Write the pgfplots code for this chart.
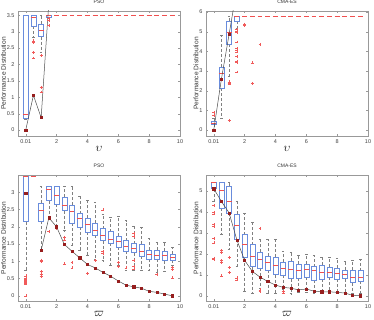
\documentclass[border=0pt]{standalone}
\usepackage{fontspec}
\setmainfont{Liberation Sans}
\usepackage{pgfplots}
\pgfplotsset{compat=1.18}
\usepgfplotslibrary{statistics}
\definecolor{boxblue}{RGB}{105,140,220}
\definecolor{medred}{RGB}{240,80,80}
\definecolor{outred}{RGB}{240,90,90}
\definecolor{darkred}{RGB}{150,30,30}
\pgfplotsset{
  panel/.style={scale only axis, width=162pt, height=125pt,
    xmin=-0.5, xmax=10, xtick={0,2,4,6,8,10}, xticklabels={0.01,2,4,6,8,10},
    tick align=inside, major tick length=2pt,
    axis line style={black!40}, tick style={black!40},
    /pgf/number format/assume math mode=true,
    ticklabel style={font=\fontsize{5.5}{6}\selectfont, text=black!75},
    ylabel={Performance Distribution}, ylabel shift=-6pt,
    ylabel style={font=\fontsize{6.6}{7}\selectfont, text=black!80},
    xlabel style={font=\fontsize{12}{12}\selectfont, yshift=4pt},
    title style={font=\fontsize{5}{6}\selectfont, text=black!80, yshift=-2.5pt},
    unbounded coords=jump},
  bp/.style={solid, draw=boxblue, line width=0.4pt, mark=+, mark size=1.4pt,
    mark options={draw=outred, solid},
    boxplot/draw direction=y,
    boxplot/box extend=0.32, boxplot/whisker extend=0.16,
    boxplot/every box/.style={draw=boxblue},
    boxplot/every median/.style={draw=medred},
    boxplot/every whisker/.style={draw=black!50, densely dashed}},
  ln/.style={black!70, line width=0.5pt, mark=square*, mark size=1.1pt,
    mark options={fill=darkred, draw=darkred}},
}
% draw position, lower whisker, lower quartile, median, upper quartile, upper whisker, outliers
\newcommand{\bx}[7]{\addplot[bp, boxplot prepared={draw position=#1, lower whisker=#2,
  lower quartile=#3, median=#4, upper quartile=#5, upper whisker=#6}] coordinates {#7};}
% collapsed box: only the red median shows
\newcommand{\dg}[3]{\addplot[bp, boxplot/every box/.style={draw=none},
  boxplot/every whisker/.style={draw=none},
  boxplot/every median/.style={draw=medred, line width=1pt},
  boxplot prepared={draw position=#1, lower whisker=#2, lower quartile=#2,
  median=#2, upper quartile=#2, upper whisker=#2}] coordinates {#3};}
\begin{document}
\begin{tikzpicture}
\useasboundingbox (0,0) rectangle (374pt,-320pt);

% PSO, upsilon
\begin{axis}[panel, at={(18pt,-11pt)}, anchor=north west,
  ymin=-0.18, ymax=3.63, ytick={0,0.5,...,3.5}, title={PSO}, xlabel={$\upsilon$}]
\bx{0}{0.33}{0.35}{0.48}{3.5}{3.5}{}
\bx{0.5}{2.83}{3.18}{3.43}{3.5}{3.5}{(0,2.72) (0,2.67) (0,2.36) (0,2.2)}
\bx{1}{2.36}{2.85}{3.05}{3.23}{3.5}{(0,2.27) (0,1.31) (0,1.16)}
\bx{1.5}{3.44}{3.45}{3.5}{3.5}{3.5}{(0,3.4) (0,3.35) (0,3.2)}
\dg{2}{3.5}{} \dg{2.5}{3.5}{} \dg{3}{3.5}{} \dg{3.5}{3.5}{}
\dg{4}{3.5}{} \dg{4.5}{3.5}{} \dg{5}{3.5}{} \dg{5.5}{3.5}{}
\dg{6}{3.5}{} \dg{6.5}{3.5}{} \dg{7}{3.5}{} \dg{7.5}{3.5}{}
\dg{8}{3.5}{} \dg{8.5}{3.5}{} \dg{9}{3.5}{} \dg{9.5}{3.5}{}
\addplot[ln] coordinates {(0,0) (0.5,1.06) (1,0.38) (1.5,3.9) (2,9)};
\end{axis}

% CMA-ES, upsilon
\begin{axis}[panel, at={(206pt,-11pt)}, anchor=north west,
  ymin=-0.3, ymax=6.05, ytick={0,1,...,6}, title={CMA-ES}, xlabel={$\upsilon$}]
\bx{0}{0.02}{0.29}{0.37}{0.47}{0.6}{(0,0.91) (0,0.75)}
\bx{0.5}{0.6}{2.12}{2.9}{3.22}{4.83}{}
\bx{1}{2.75}{4.35}{4.95}{5.55}{5.78}{(0,2.45) (0,2.4) (0,2.35) (0,0.5)}
\bx{1.5}{5.2}{5.55}{5.78}{5.78}{5.78}{(0,5.12) (0,5.02) (0,4.96) (0,4.48) (0,4.16) (0,4.05) (0,3.98) (0,3.74) (0,3.5) (0,3.44) (0,2.95)}
\dg{2}{5.78}{(0,5.39) (0,5.31)} \dg{2.5}{5.78}{(0,3.42) (0,2.38)} \dg{3}{5.78}{(0,4.35)}
\dg{3.5}{5.78}{} \dg{4}{5.78}{} \dg{4.5}{5.78}{} \dg{5}{5.78}{} \dg{5.5}{5.78}{}
\dg{6}{5.78}{} \dg{6.5}{5.78}{} \dg{7}{5.78}{} \dg{7.5}{5.78}{}
\dg{8}{5.78}{} \dg{8.5}{5.78}{} \dg{9}{5.78}{} \dg{9.5}{5.78}{}
\addplot[ln] coordinates {(0,0) (0.5,2.6) (1,4.88) (1.5,7.2) (2,9.5)};
\end{axis}

% PSO, varpi
\begin{axis}[panel, at={(18pt,-175pt)}, anchor=north west, height=126pt,
  ymin=-0.15, ymax=3.5, ytick={0,0.5,...,3}, title={PSO}, xlabel={$\varpi$}]
\bx{0}{0.73}{2.15}{3.46}{3.46}{3.46}{(0,0.58) (0,0.52) (0,0.49) (0,0.46) (0,0.43) (0,0.4) (0,0.37) (0,0.34) (0,0)}
\dg{0.5}{3.46}{}
\bx{1}{1.35}{2.17}{2.47}{2.68}{3.19}{(0,1.04) (0,0.99) (0,0.71) (0,0.64) (0,0.57)}
\bx{1.5}{2.23}{2.76}{3.1}{3.19}{3.19}{(0,1.87)}
\bx{2}{2.03}{2.66}{2.92}{3.19}{3.19}{(0,1.95)}
\bx{2.5}{1.89}{2.47}{2.63}{2.85}{3.19}{(0,1.7) (0,1.62) (0,0.93)}
\bx{3}{1.46}{2.11}{2.44}{2.63}{3.19}{(0,0.96) (0,0.81)}
\bx{3.5}{1.31}{2.0}{2.24}{2.38}{2.9}{}
\bx{4}{1.17}{1.84}{2.08}{2.24}{2.76}{(0,0.65)}
\bx{4.5}{1.07}{1.75}{1.91}{2.1}{2.71}{(0,1.02)}
\bx{5}{1.02}{1.6}{1.77}{1.95}{2.37}{(0,2.49) (0,1.29) (0,1.23)}
\bx{5.5}{0.88}{1.52}{1.65}{1.86}{2.28}{}
\bx{6}{0.88}{1.41}{1.58}{1.72}{2.3}{(0,0.97) (0,0.85)}
\bx{6.5}{0.73}{1.3}{1.45}{1.6}{2.18}{(0,0.81)}
\bx{7}{0.75}{1.25}{1.38}{1.51}{2.03}{(0,1.81) (0,1.72) (0,1.02) (0,0.85) (0,0.78)}
\bx{7.5}{0.75}{1.16}{1.3}{1.5}{2.0}{}
\bx{8}{0.74}{1.07}{1.2}{1.33}{1.68}{}
\bx{8.5}{0.69}{1.07}{1.19}{1.33}{1.56}{(0,0.62)}
\bx{9}{0.7}{1.02}{1.17}{1.29}{1.55}{}
\bx{9.5}{0.9}{1.04}{1.13}{1.2}{1.41}{(0,0.83) (0,0.77) (0,0.52)}
\addplot[ln] coordinates {(0,2.98) (0.5,nan) (1,1.32) (1.5,2.26) (2,2.0) (2.5,1.49) (3,1.29)
  (3.5,1.1) (4,0.91) (4.5,0.81) (5,0.68) (5.5,0.57) (6,0.43) (6.5,0.31) (7,0.26)
  (7.5,0.22) (8,0.13) (8.5,0.1) (9,0.05) (9.5,0)};
\end{axis}

% CMA-ES, varpi
\begin{axis}[panel, at={(206pt,-175pt)}, anchor=north west, height=126pt,
  ymin=-0.25, ymax=5.75, ytick={0,1,...,5}, title={CMA-ES}, xlabel={$\varpi$}]
\bx{0}{4.5}{5.1}{5.43}{5.43}{5.43}{(0,4.3) (0,3.97) (0,3.9) (0,3.39) (0,3.29) (0,2.74) (0,2.52) (0,1.8) (0,1.72)}
\bx{0.5}{2.94}{4.18}{5.05}{5.43}{5.43}{(0,2.15) (0,2.06) (0,1.68) (0,1.6) (0,0.95)}
\bx{1}{2.23}{3.92}{4.49}{5.24}{5.43}{(0,1.84) (0,1.36) (0,1.12)}
\bx{1.5}{1.39}{2.69}{3.34}{3.89}{4.49}{(0,0.85) (0,0.76)}
\bx{2}{0.22}{1.82}{2.44}{2.91}{3.92}{}
\bx{2.5}{0.1}{1.39}{1.9}{2.44}{3.48}{}
\bx{3}{0.35}{1.33}{1.74}{2.06}{2.71}{(0,3.21) (0,0.28) (0,0.22)}
\bx{3.5}{0.1}{1.23}{1.58}{1.88}{2.71}{}
\bx{4}{0.1}{1.01}{1.47}{1.84}{2.71}{}
\bx{4.5}{0.3}{1.0}{1.33}{1.6}{2.12}{(0,0.22) (0,0.13)}
\bx{5}{0.1}{0.82}{1.28}{1.65}{2.07}{}
\bx{5.5}{0.17}{0.85}{1.23}{1.49}{1.93}{}
\bx{6}{0.17}{0.89}{1.27}{1.52}{1.96}{}
\bx{6.5}{0.1}{0.76}{1.23}{1.39}{1.91}{}
\bx{7}{0.13}{0.79}{1.11}{1.46}{1.84}{}
\bx{7.5}{0.17}{0.89}{1.11}{1.36}{1.84}{}
\bx{8}{0.13}{0.78}{1.06}{1.31}{1.8}{}
\bx{8.5}{0.17}{0.82}{1.04}{1.23}{1.65}{}
\bx{9}{0.1}{0.63}{0.89}{1.22}{1.68}{}
\bx{9.5}{0.13}{0.7}{0.89}{1.2}{1.74}{}
\addplot[ln] coordinates {(0,5.1) (0.5,4.49) (1,3.94) (1.5,2.66) (2,1.69) (2.5,1.16) (3,0.89)
  (3.5,0.68) (4,0.51) (4.5,0.4) (5,0.36) (5.5,0.28) (6,0.32) (6.5,0.22) (7,0.19)
  (7.5,0.19) (8,0.16) (8.5,0.13) (9,0.02) (9.5,0)};
\end{axis}
\end{tikzpicture}
\end{document}
